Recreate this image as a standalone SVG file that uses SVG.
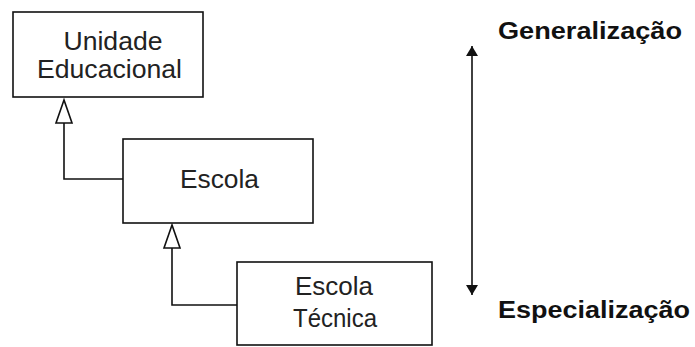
<svg xmlns="http://www.w3.org/2000/svg" width="695" height="347" viewBox="0 0 695 347">
  <style>
    .box { fill: #ffffff; stroke: #111111; stroke-width: 1.6; }
    .lbl { font-family: "Liberation Sans", Arial, sans-serif; font-size: 25px; fill: #222222; text-anchor: middle; }
    .side { font-family: "Liberation Sans", Arial, sans-serif; font-size: 23px; font-weight: bold; fill: #111111; }
    .conn { fill: none; stroke: #111111; stroke-width: 1.6; }
    .tri { fill: #ffffff; stroke: #111111; stroke-width: 1.6; stroke-linejoin: miter; }
  </style>
  <defs>
    <marker id="ah" viewBox="0 0 10 12" refX="10" refY="6" markerWidth="10" markerHeight="12" markerUnits="userSpaceOnUse" orient="auto-start-reverse">
      <path d="M0,0 L10,6 L0,12 z" fill="#111111"/>
    </marker>
  </defs>
  <rect width="695" height="347" fill="#ffffff"/>

  <g id="connectors">
    <path class="conn" d="M64,123 V179 H123"/>
    <polygon class="tri" points="64,100 56,123 72,123"/>
    <path class="conn" d="M172,248 V305 H237"/>
    <polygon class="tri" points="172,225 164,248 180,248"/>
    <line class="conn" x1="472" y1="46" x2="472" y2="295" marker-start="url(#ah)" marker-end="url(#ah)"/>
  </g>

  <g id="unidade-educacional">
    <rect class="box" x="13" y="12" width="190" height="85"/>
    <text class="lbl" x="113" y="50" textLength="99" lengthAdjust="spacingAndGlyphs">Unidade</text>
    <text class="lbl" x="109.5" y="78" textLength="145" lengthAdjust="spacingAndGlyphs">Educacional</text>
  </g>

  <g id="escola">
    <rect class="box" x="123" y="139" width="190" height="84"/>
    <text class="lbl" x="219.5" y="188" textLength="79" lengthAdjust="spacingAndGlyphs">Escola</text>
  </g>

  <g id="escola-tecnica">
    <rect class="box" x="237" y="262" width="195" height="83"/>
    <text class="lbl" x="334" y="295" textLength="78" lengthAdjust="spacingAndGlyphs">Escola</text>
    <text class="lbl" x="335" y="327" textLength="84" lengthAdjust="spacingAndGlyphs">Técnica</text>
  </g>

  <g id="generalizacao">
    <text class="side" x="498" y="39" textLength="184" lengthAdjust="spacingAndGlyphs">Generalização</text>
  </g>
  <g id="especializacao">
    <text class="side" x="498" y="318" textLength="192" lengthAdjust="spacingAndGlyphs">Especialização</text>
  </g>
</svg>
